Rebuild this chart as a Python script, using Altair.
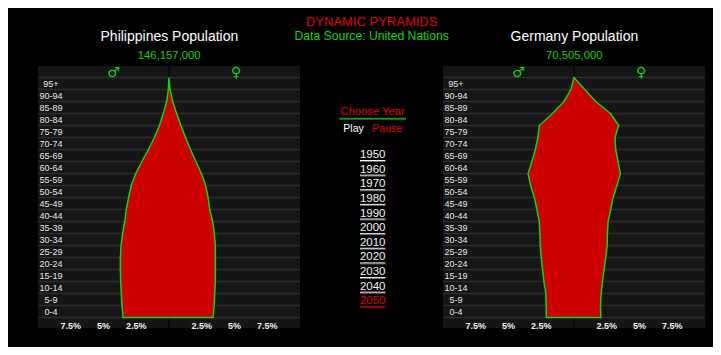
import altair as alt
import pandas as pd

# ---------------- data ----------------
age_groups = ["0-4", "5-9", "10-14", "15-19", "20-24", "25-29", "30-34", "35-39",
              "40-44", "45-49", "50-54", "55-59", "60-64", "65-69", "70-74",
              "75-79", "80-84", "85-89", "90-94", "95+"]
age_starts = [0, 5, 10, 15, 20, 25, 30, 35, 40, 45, 50, 55, 60, 65, 70, 75, 80, 85, 90, 95]

# share of total population (%), year 2050
phl_male = [3.51, 3.59, 3.64, 3.69, 3.71, 3.71, 3.66, 3.54, 3.38, 3.26,
            3.08, 2.88, 2.53, 2.07, 1.57, 1.11, 0.73, 0.43, 0.18, 0.05]
phl_female = [3.36, 3.45, 3.49, 3.54, 3.54, 3.54, 3.54, 3.46, 3.33, 3.11,
              2.98, 2.80, 2.47, 2.05, 1.64, 1.26, 0.91, 0.58, 0.28, 0.08]
deu_male = [2.12, 2.12, 2.15, 2.30, 2.40, 2.50, 2.58, 2.60, 2.65, 2.83,
            3.03, 3.31, 3.51, 3.21, 2.95, 2.75, 2.65, 1.64, 0.76, 0.23]
deu_female = [2.05, 2.02, 2.07, 2.17, 2.30, 2.42, 2.53, 2.55, 2.60, 2.80,
              2.98, 3.28, 3.54, 3.36, 3.18, 3.13, 3.41, 2.78, 1.66, 0.82]

countries = ["Philippines", "Germany"]
totals = ["146,157,000", "70,505,000"]

years = [1950, 1960, 1970, 1980, 1990, 2000, 2010, 2020, 2030, 2040, 2050]
selected_year = 2050

tick_values = [-7.5, -5, -2.5, 2.5, 5, 7.5]
tick_labels = ["7.5%", "5%", "2.5%", "2.5%", "5%", "7.5%"]

# ---------------- styles ----------------
FONT = "Liberation Sans"
RED = "#e00000"
GREEN = "#14d214"
FILL = "#cc0000"
BG = "#151515"
LINE = "#2e2e2e"
TOTAL_H = 339


def pyramid(name, total, male, female, x0, view_w):
    xs = alt.Scale(domain=[-10, 10], range=[x0, x0 + 262])
    ys = alt.Scale(domain=[0, 100], range=[309.5, 69.5])
    cx = x0 + 131

    one = pd.DataFrame({"a": [0]})
    bg = alt.Chart(one).mark_rect(color=BG).encode(
        x=alt.value(x0), x2=alt.value(x0 + 262), y=alt.value(58), y2=alt.value(320))

    rows = alt.Chart(pd.DataFrame({"b": age_starts + [100]})).mark_rule(
        color=LINE, strokeWidth=1.3).encode(
        y=alt.Y("b:Q", scale=ys, axis=None),
        x=alt.value(x0), x2=alt.value(x0 + 262))

    centre = alt.Chart(pd.DataFrame({"c": [0]})).mark_rule(
        color="#000000", strokeWidth=1).encode(
        x=alt.X("c:Q", scale=xs, axis=None), y=alt.value(58), y2=alt.value(320))

    df = pd.DataFrame({"age": age_starts + [100],
                       "male": male + [0],
                       "female": female + [0]})
    area = alt.Chart(df).transform_calculate(m="-datum.male").mark_area(
        orient="horizontal", color=FILL, fill=FILL, stroke=GREEN,
        strokeWidth=1.5, interpolate="linear").encode(
        y=alt.Y("age:Q", scale=ys, axis=None),
        x=alt.X("m:Q", scale=xs, axis=None),
        x2=alt.X2("female:Q"))

    labels = alt.Chart(pd.DataFrame({"g": age_groups, "s": age_starts})).transform_calculate(
        mid="datum.s + 2.5").mark_text(
        font=FONT, fontSize=9, color="#e6e6e6", align="center", baseline="middle").encode(
        y=alt.Y("mid:Q", scale=ys, axis=None), x=alt.value(x0 + 13), text="g:N")

    ticks = alt.Chart(pd.DataFrame({"v": tick_values, "t": tick_labels})).mark_text(
        font=FONT, fontSize=9, fontWeight="bold", color="#eeeeee",
        align="center", baseline="middle").encode(
        x=alt.X("v:Q", scale=xs, axis=None), y=alt.value(317.7), text="t:N")

    male_sym = alt.Chart(one).mark_text(
        text="\u2642", font="DejaVu Sans", fontSize=14, color=GREEN,
        align="center", baseline="middle").encode(x=alt.value(cx - 55.5), y=alt.value(65))
    female_sym = alt.Chart(one).mark_text(
        text="\u2640", font="DejaVu Sans", fontSize=14, color=GREEN,
        align="center", baseline="middle").encode(x=alt.value(cx + 67), y=alt.value(65))

    title = alt.Chart(one).mark_text(
        text=name + " Population", font=FONT, fontSize=14, color="#ffffff",
        align="center", baseline="alphabetic").encode(x=alt.value(cx + 0.4), y=alt.value(33))
    sub = alt.Chart(one).mark_text(
        text=total, font=FONT, fontSize=11.3, color=GREEN,
        align="center", baseline="alphabetic").encode(x=alt.value(cx + 0.2), y=alt.value(51))

    return alt.layer(bg, rows, centre, area, labels, ticks, male_sym, female_sym,
                     title, sub).properties(width=view_w, height=TOTAL_H)


left = pyramid(countries[0], totals[0], phl_male, phl_female, 30, 292)
right = pyramid(countries[1], totals[1], deu_male, deu_female, 0, 270)

# ---------------- middle column ----------------
one = pd.DataFrame({"a": [0]})
MID_CX = 71.7
head = alt.Chart(one).mark_text(
    text="DYNAMIC PYRAMIDS", font=FONT, fontSize=13, color=RED,
    align="center", baseline="alphabetic").encode(x=alt.value(MID_CX), y=alt.value(17.7))
source = alt.Chart(one).mark_text(
    text="Data Source: United Nations", font=FONT, fontSize=12.2, color=GREEN,
    align="center", baseline="alphabetic").encode(x=alt.value(MID_CX), y=alt.value(32))
choose = alt.Chart(one).mark_text(
    text="Choose Year", font=FONT, fontSize=11.2, color=RED,
    align="center", baseline="middle").encode(x=alt.value(72.6), y=alt.value(104))
choose_line = alt.Chart(one).mark_rule(color="#0a9a0a", strokeWidth=2).encode(
    x=alt.value(39.3), x2=alt.value(106), y=alt.value(110.7))
play = alt.Chart(one).mark_text(
    text="Play", font=FONT, fontSize=10.5, color="#ffffff",
    align="left", baseline="middle").encode(x=alt.value(43.3), y=alt.value(120.5))
pause = alt.Chart(one).mark_text(
    text="Pause", font=FONT, fontSize=10.5, color=RED,
    align="left", baseline="middle").encode(x=alt.value(72.3), y=alt.value(120.5))

ydf = pd.DataFrame({"year": years})
yscale = alt.Scale(type="point", range=[147, 293.3], padding=0)
is_sel = alt.datum.year == selected_year
year_text = alt.Chart(ydf).mark_text(
    font=FONT, fontSize=11.5, align="center", baseline="middle").encode(
    y=alt.Y("year:O", scale=yscale, axis=None), x=alt.value(72.7),
    text="year:O",
    color=alt.condition(is_sel, alt.value(RED), alt.value("#f4f4f4")))
year_shadow = alt.Chart(ydf).mark_rule(strokeWidth=1, yOffset=6.5).encode(
    y=alt.Y("year:O", scale=yscale, axis=None),
    x=alt.value(60), x2=alt.value(85.4),
    color=alt.condition(is_sel, alt.value("#7a0000"), alt.value("#6a6a6a")))
year_line = alt.Chart(ydf).mark_rule(strokeWidth=1, yOffset=5.5).encode(
    y=alt.Y("year:O", scale=yscale, axis=None),
    x=alt.value(60), x2=alt.value(85.4),
    color=alt.condition(is_sel, alt.value(RED), alt.value("#f4f4f4")))

middle = alt.layer(head, source, choose, choose_line, play, pause,
                   year_shadow, year_line, year_text).properties(width=143, height=TOTAL_H)

chart = alt.hconcat(left, middle, right, spacing=0, bounds="flush").properties(
    background="#000000", padding=0).configure_view(strokeWidth=0)

chart.save("out.html", embed_options={"renderer": "svg", "actions": False})
